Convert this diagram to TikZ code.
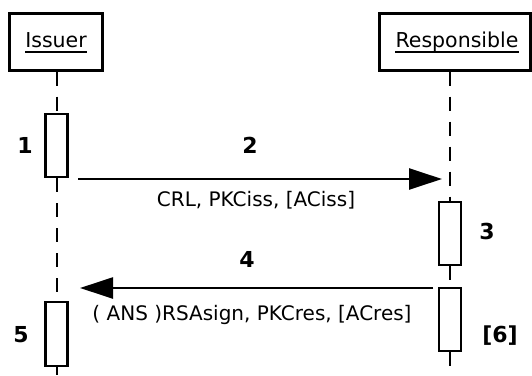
\documentclass[tikz,border=0pt]{standalone}
\usepackage{fontspec}
\setmainfont{DejaVu Sans}
\usetikzlibrary{arrows.meta}
\begin{document}
\begin{tikzpicture}[x=1pt,y=-1pt,
  actor/.style={draw, line width=3pt, minimum height=57pt, inner sep=0pt},
  actname/.style={font=\fontsize{20.5pt}{24pt}\selectfont, inner sep=0pt, anchor=base},
  actbox/.style={draw, fill=white, line width=2.4pt, minimum width=22pt, minimum height=63pt, inner sep=0pt},
  life/.style={line width=2pt, dash pattern=on 14pt off 11pt},
  msg/.style={line width=2.4pt, -{Triangle[length=33pt,width=21pt]}},
  msgtext/.style={font=\fontsize{20pt}{24pt}\selectfont, inner sep=0pt, anchor=base},
  stepnum/.style={font=\fontsize{22pt}{26pt}\selectfont\bfseries, inner sep=0pt, anchor=base}
]
\useasboundingbox (0,0) rectangle (532,375);

% actors
\node[actor, minimum width=93pt] (iss) at (55.5,41.5) {};
\node[actor, minimum width=151pt] (res) at (455,41.5) {};
\node[actname] (issT) at (56,47) {Issuer};
\node[actname] (resT) at (457,47) {Responsible};
\draw[line width=1.5pt] ([yshift=-5pt]issT.base west) -- ([yshift=-5pt]issT.base east);
\draw[line width=1.5pt] ([yshift=-5pt]resT.base west) -- ([yshift=-5pt]resT.base east);

% activations
\node[actbox] (a1) at (56.5,145.5) {};
\node[actbox] (a3) at (450,233.5) {};
\node[actbox, minimum height=64pt] (a5) at (56.5,334) {};
\node[actbox] (a6) at (450,319.5) {};

\coordinate (issEnd) at (56.5,375);
\coordinate (resEnd) at (450,375);

% lifelines
\draw[life] (iss.south -| a1.north) -- (a1.north);
\draw[life] (a1.south) -- (a5.north);
\draw[life] (a5.south) -- (issEnd);
\draw[life] (res.south -| a3.north) -- (a3.north);
\draw[life] (a3.south) -- (a6.north);
\draw[life] (a6.south) -- (resEnd);

% messages
\coordinate (m2s) at (78,179);
\coordinate (m2e) at (442,179);
\coordinate (m4s) at (433,288);
\coordinate (m4e) at (80,288);
\draw[msg] (m2s) -- (m2e);
\draw[msg] (m4s) -- (m4e);

\node[msgtext] (t2) at (256,206) {CRL, PKCiss, [ACiss]};
\node[msgtext] (t4) at (252,320) {( ANS )RSAsign, PKCres, [ACres]};

% step numbers
\node[stepnum] (n1) at (25,153) {1};
\node[stepnum] (n2) at (250,153) {2};
\node[stepnum] (n3) at (487,239) {3};
\node[stepnum] (n4) at (247,267) {4};
\node[stepnum] (n5) at (21,342) {5};
\node[stepnum] (n6) at (500,342) {[6]};
\end{tikzpicture}
\end{document}
